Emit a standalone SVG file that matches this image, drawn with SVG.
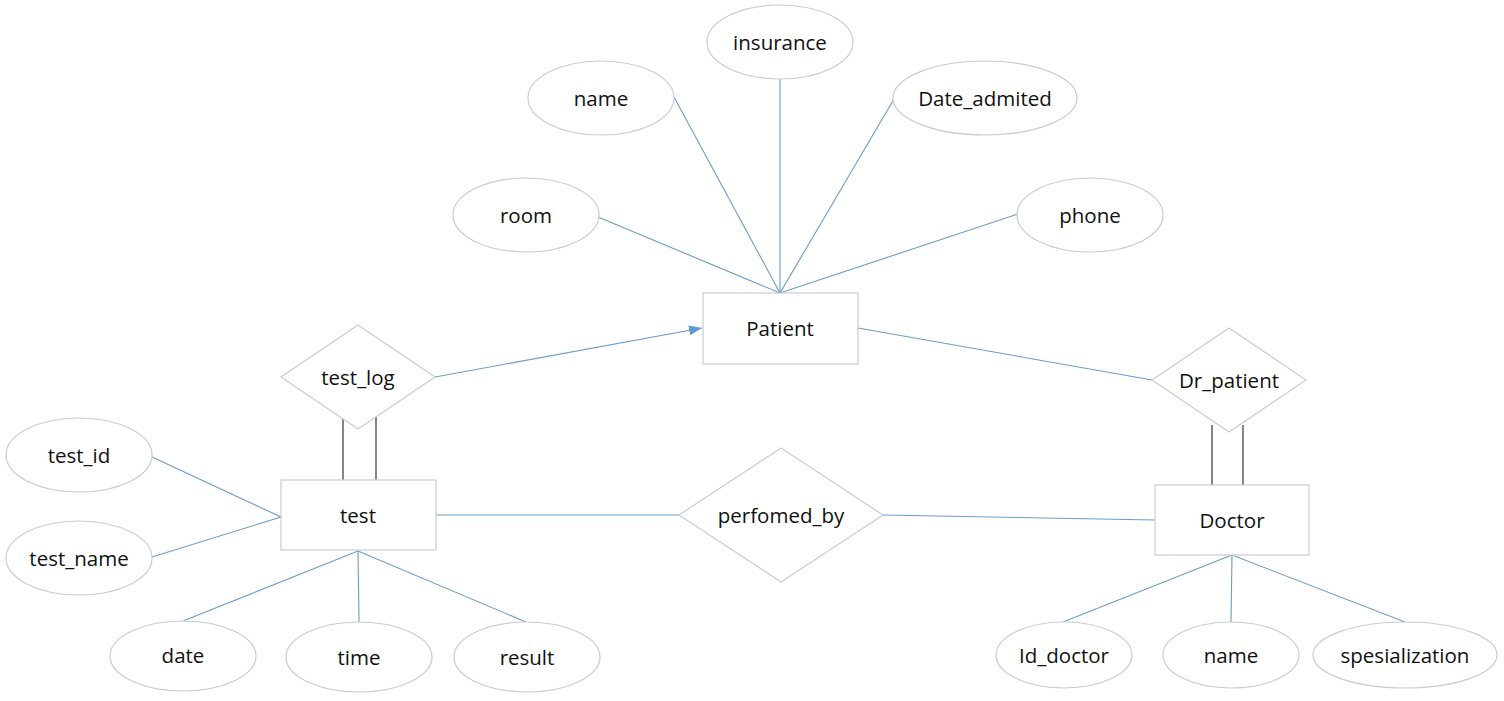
<svg xmlns="http://www.w3.org/2000/svg" width="1504" height="701" viewBox="0 0 1504 701">
<defs>
<style>
.shape{fill:#fff;stroke:#c9ccd1;stroke-width:1.2}
.conn{stroke:#6a9dcc;stroke-width:1.1;fill:none}
.dbl{stroke:#222;stroke-width:1.1;fill:none}
text{font-family:"Open Sans","Noto Sans",sans-serif;font-size:20.5px;fill:#111;text-anchor:middle;dominant-baseline:central}
</style>
<marker id="arr" markerWidth="14" markerHeight="10" refX="13" refY="5" orient="auto" markerUnits="userSpaceOnUse">
<path d="M0,0 L13,5 L0,10 Z" fill="#5b9bd5"/>
</marker>
</defs>
<rect width="1504" height="701" fill="#fff"/>
<g id="connectors">
<line class="conn" x1="598" y1="217" x2="780" y2="293"/>
<line class="conn" x1="674" y1="97" x2="780" y2="293"/>
<line class="conn" x1="780" y1="79" x2="780" y2="293"/>
<line class="conn" x1="894" y1="99" x2="780" y2="293"/>
<line class="conn" x1="1018" y1="214" x2="780" y2="293"/>
<line class="conn" x1="435" y1="377" x2="702" y2="328" marker-end="url(#arr)"/>
<line class="conn" x1="858" y1="328" x2="1152" y2="380"/>
<line class="dbl" x1="343" y1="415" x2="343" y2="480"/>
<line class="dbl" x1="376" y1="415" x2="376" y2="480"/>
<line class="dbl" x1="1212" y1="425" x2="1212" y2="485"/>
<line class="dbl" x1="1243" y1="425" x2="1243" y2="485"/>
<line class="conn" x1="152" y1="457" x2="281" y2="517"/>
<line class="conn" x1="152" y1="557" x2="281" y2="517"/>
<line class="conn" x1="358" y1="551" x2="183" y2="621"/>
<line class="conn" x1="358" y1="551" x2="359" y2="622"/>
<line class="conn" x1="358" y1="551" x2="526" y2="622"/>
<line class="conn" x1="436" y1="515" x2="679" y2="515"/>
<line class="conn" x1="883" y1="515" x2="1155" y2="520"/>
<line class="conn" x1="1232" y1="555" x2="1063" y2="622"/>
<line class="conn" x1="1232" y1="555" x2="1231" y2="622"/>
<line class="conn" x1="1232" y1="555" x2="1405" y2="622"/>
</g>
<g id="attr-insurance"><ellipse class="shape" cx="780" cy="42" rx="73" ry="37"/><text x="780" y="42">insurance</text></g>
<g id="attr-name"><ellipse class="shape" cx="601" cy="98" rx="73" ry="37"/><text x="601" y="98">name</text></g>
<g id="attr-date-admited"><ellipse class="shape" cx="985" cy="98" rx="92" ry="37"/><text x="985" y="98">Date_admited</text></g>
<g id="attr-room"><ellipse class="shape" cx="526" cy="215" rx="73" ry="37"/><text x="526" y="215">room</text></g>
<g id="attr-phone"><ellipse class="shape" cx="1090" cy="215" rx="73" ry="37"/><text x="1090" y="215">phone</text></g>
<g id="patient"><rect class="shape" x="703" y="293" width="155" height="71"/><text x="780" y="328">Patient</text></g>
<g id="test-log"><polygon class="shape" points="358,325 435,377 358,429 281,377"/><text x="358" y="377">test_log</text></g>
<g id="dr-patient"><polygon class="shape" points="1229,328 1306,380 1229,432 1152,380"/><text x="1229" y="380">Dr_patient</text></g>
<g id="test"><rect class="shape" x="281" y="480" width="155" height="70"/><text x="358" y="515">test</text></g>
<g id="attr-test-id"><ellipse class="shape" cx="79" cy="455" rx="73" ry="37"/><text x="79" y="455">test_id</text></g>
<g id="attr-test-name"><ellipse class="shape" cx="79" cy="558" rx="73" ry="37"/><text x="79" y="558">test_name</text></g>
<g id="attr-date"><ellipse class="shape" cx="183" cy="656" rx="73" ry="35"/><text x="183" y="655">date</text></g>
<g id="attr-time"><ellipse class="shape" cx="359" cy="657" rx="73" ry="35"/><text x="359" y="657">time</text></g>
<g id="attr-result"><ellipse class="shape" cx="527" cy="657" rx="73" ry="35"/><text x="527" y="657">result</text></g>
<g id="perfomed-by"><polygon class="shape" points="781,448 883,515 781,582 679,515"/><text x="781" y="515">perfomed_by</text></g>
<g id="doctor"><rect class="shape" x="1155" y="485" width="154" height="70"/><text x="1232" y="520">Doctor</text></g>
<g id="attr-id-doctor"><ellipse class="shape" cx="1064" cy="655" rx="68" ry="33"/><text x="1064" y="655">Id_doctor</text></g>
<g id="attr-doctor-name"><ellipse class="shape" cx="1231" cy="655" rx="68" ry="33"/><text x="1231" y="655">name</text></g>
<g id="attr-spesialization"><ellipse class="shape" cx="1405" cy="655" rx="92" ry="33"/><text x="1405" y="655">spesialization</text></g>
</svg>
